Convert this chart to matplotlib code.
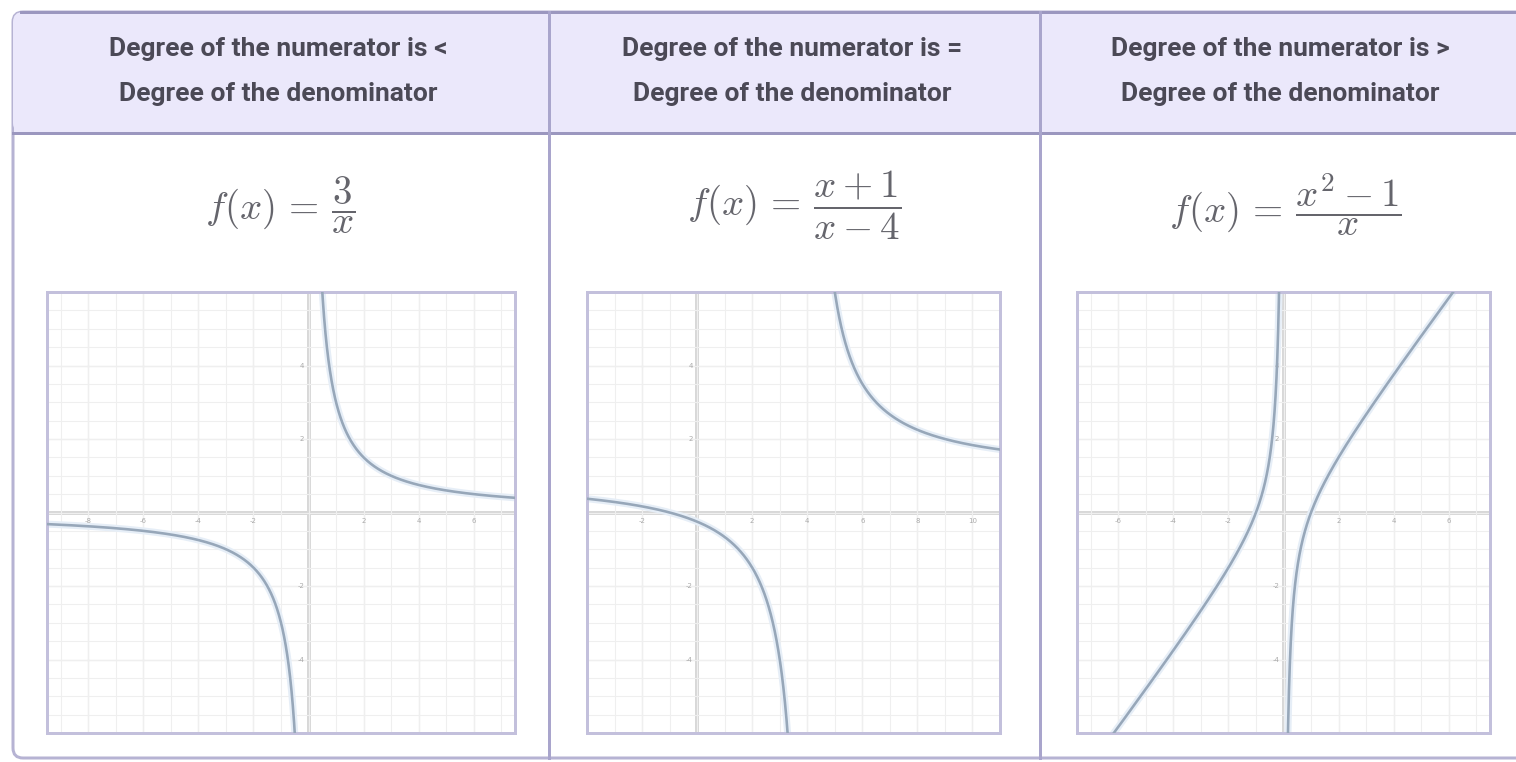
import numpy as np
import matplotlib
matplotlib.use('Agg')
from matplotlib import pyplot as plt
from matplotlib.patches import FancyBboxPatch, Rectangle

W, H = 1516, 762
DPI = 100
PX = 72 / DPI  # points per pixel

# table content
headers = ['Degree of the numerator is <\nDegree of the denominator',
           'Degree of the numerator is =\nDegree of the denominator',
           'Degree of the numerator is >\nDegree of the denominator']
formulas = [r'$f(x)\,=\,\dfrac{3}{x}$',
            r'$f(x)\,=\,\dfrac{x+1}{x-4}$',
            r'$f(x)\,=\,\dfrac{x^2-1}{x}$']

# rational functions: polynomial coefficients, highest power first
numerators = [[3], [1, 1], [1, 0, -1]]
denominators = [[1, 0], [1, -4], [1, 0]]
asymptotes = [0, 4, 0]

x_ranges = [(-9.5, 7.5), (-4, 11), (-7.5, 7.5)]
y_range = (-6, 6)
x_ticks = [[-8, -6, -4, -2, 2, 4, 6], [-2, 2, 4, 6, 8, 10], [-6, -4, -2, 2, 4, 6]]
y_ticks = [-4, -2, 2, 4]

# layout in pixels
col_edges = [13, 549, 1040, 1535]
panel_x = [(47, 515), (587, 1000), (1077, 1490)]
panel_top, panel_bot = 292, 733
header_top, header_bot = 12, 133
table_bot = 758
header_cx = [278, 792, 1280]
formula_cx = [280, 794, 1285]

plt.rcParams['mathtext.fontset'] = 'cm'
border = '#a9a5cc'
head_bg = '#ebe8fb'

fig = plt.figure(figsize=(W / DPI, H / DPI), dpi=DPI)
bg = fig.add_axes([0, 0, 1, 1], zorder=0)
bg.set_xlim(0, W)
bg.set_ylim(H, 0)
bg.axis('off')

# outer table frame with rounded left corners
bg.add_patch(FancyBboxPatch((col_edges[0], header_top), col_edges[-1] - col_edges[0],
                            table_bot - header_top, boxstyle='round,pad=0,rounding_size=10',
                            fc='white', ec='#b6b3d3', lw=3 * PX, clip_on=False))
bg.add_patch(FancyBboxPatch((col_edges[0], header_top), col_edges[-1] - col_edges[0],
                            header_bot - header_top, boxstyle='round,pad=0,rounding_size=10',
                            fc=head_bg, ec='none', clip_on=False))
bg.add_patch(Rectangle((col_edges[0] + 1, header_bot - 20), col_edges[-1], 20,
                       fc=head_bg, ec='none'))
bg.plot([col_edges[0] + 8, W], [header_top, header_top], color='#9b97bf', lw=3 * PX)
bg.plot([col_edges[0], W], [header_bot, header_bot], color='#9b97bf', lw=3 * PX)
for xe in col_edges[1:-1]:
    bg.plot([xe, xe], [header_top, table_bot], color=border, lw=3 * PX)

for i in range(3):
    line1, line2 = headers[i].split('\n')
    for txt, yy in [(line1, 49), (line2, 94)]:
        bg.text(header_cx[i], yy, txt, ha='center', va='center', fontsize=19,
                fontweight='bold', color='#4b4956',
                family=['Roboto', 'DejaVu Sans'])
    bg.text(formula_cx[i], 205, formulas[i], ha='center', va='center',
            fontsize=28, color='#65656c')

for i in range(3):
    x0p, x1p = panel_x[i]
    ax = fig.add_axes([x0p / W, (H - panel_bot) / H, (x1p - x0p) / W,
                       (panel_bot - panel_top) / H], zorder=1)
    xmin, xmax = x_ranges[i]
    ax.set_xlim(xmin, xmax)
    ax.set_ylim(*y_range)

    ax.set_xticks(np.arange(np.ceil(xmin), xmax + 0.01, 1.0))
    ax.set_yticks(np.arange(y_range[0], y_range[1] + 0.01, 0.5))
    ax.grid(True, color='#efefef', lw=0.8)
    for v in x_ticks[i]:
        ax.axvline(v, color='#e2e2e2', lw=0.9, zorder=0.5)
    for v in y_ticks:
        ax.axhline(v, color='#e2e2e2', lw=0.9, zorder=0.5)
    ax.tick_params(length=0, labelbottom=False, labelleft=False)
    for s in ax.spines.values():
        s.set_color('#c3c0dc')
        s.set_linewidth(3 * PX)

    ax.axhline(0, color='#d8d8d8', lw=4 * PX, zorder=1)
    ax.axvline(0, color='#d8d8d8', lw=4 * PX, zorder=1)
    for v in x_ticks[i]:
        ax.annotate(str(v), (v, 0), xytext=(0, -4), textcoords='offset points',
                    ha='center', va='top', fontsize=5, color='#aaaaaa')
    for v in y_ticks:
        ax.annotate(str(v), (0, v), xytext=(-3, 0), textcoords='offset points',
                    ha='right', va='center', fontsize=5, color='#aaaaaa')

    xs = np.linspace(xmin, xmax, 4001)
    a = asymptotes[i]
    for branch in (xs[xs < a - 1e-6], xs[xs > a + 1e-6]):
        ys = np.polyval(numerators[i], branch) / np.polyval(denominators[i], branch)
        ax.plot(branch, ys, color='#e6eef7', lw=7 * PX, zorder=2, solid_capstyle='round')
        ax.plot(branch, ys, color='#97a7b9', lw=2.6 * PX, zorder=3)

fig.savefig('out.png', dpi=DPI)
